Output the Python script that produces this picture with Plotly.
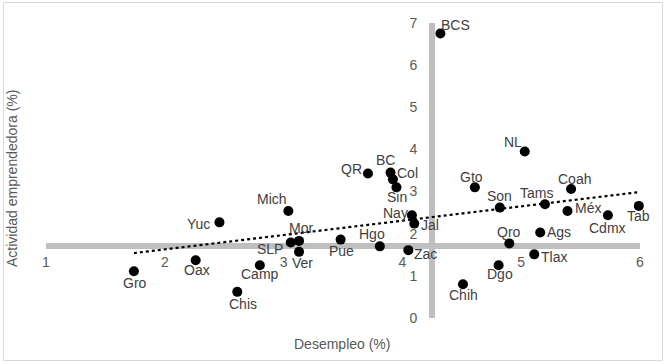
import numpy as np
import plotly.graph_objects as go

# Data
estados = ["BCS", "NL", "QR", "BC", "Col", "Sin", "Gto", "Coah", "Tams", "Son",
           "Méx", "Cdmx", "Tab", "Nay", "Jal", "Qro", "Ags", "Tlax", "Dgo", "Chih",
           "Zac", "Hgo", "Pue", "Mich", "Mor", "SLP", "Ver", "Camp", "Yuc", "Oax",
           "Gro", "Chis"]
desempleo = [4.32, 5.03, 3.71, 3.90, 3.92, 3.95, 4.61, 5.42, 5.20, 4.82,
             5.39, 5.73, 5.99, 4.08, 4.10, 4.90, 5.16, 5.11, 4.81, 4.51,
             4.05, 3.81, 3.48, 3.04, 3.13, 3.06, 3.13, 2.80, 2.46, 2.26,
             1.74, 2.61]
actividad = [6.75, 3.95, 3.43, 3.45, 3.29, 3.10, 3.10, 3.06, 2.70, 2.62,
             2.54, 2.44, 2.66, 2.44, 2.24, 1.77, 2.03, 1.51, 1.25, 0.80,
             1.61, 1.70, 1.86, 2.54, 1.83, 1.79, 1.57, 1.25, 2.27, 1.37,
             1.11, 0.62]
x_ticks = [1, 2, 3, 4, 5, 6]
y_ticks = [0, 1, 2, 3, 4, 5, 6, 7]
cruce_x = 4.25   # where the vertical axis crosses
cruce_y = 1.72   # where the horizontal axis crosses

# Label offsets in pixels (style): (dx right, dy down) of label centre from the dot
offsets = {
    "BCS": (15, -9), "NL": (-12, -10), "QR": (-16, -4), "BC": (-5, -13),
    "Col": (15, -6), "Sin": (1, 10), "Gto": (-3, -10), "Coah": (3, -10),
    "Tams": (-8, -11), "Son": (0, -12), "Méx": (20, -3), "Cdmx": (0, 13),
    "Tab": (0, 10), "Nay": (-16, -2), "Jal": (16, 1), "Qro": (0, -11),
    "Ags": (19, 0), "Tlax": (20, 3), "Dgo": (1, 9), "Chih": (1, 11),
    "Zac": (17, 4), "Hgo": (-8, -12), "Pue": (1, 11), "Mich": (-16, -12),
    "Mor": (2, -13), "SLP": (-21, 6), "Ver": (3, 11), "Camp": (0, 9),
    "Yuc": (-21, 2), "Oax": (1, 10), "Gro": (1, 12), "Chis": (6, 12),
}

xs = np.array(desempleo)
ys = np.array(actividad)
m, b = np.polyfit(xs, ys, 1)
tx = np.array([xs.min(), xs.max()])
ty = m * tx + b

FONT = "Liberation Sans, Arial, sans-serif"

fig = go.Figure()
fig.add_trace(go.Scatter(
    x=tx, y=ty, mode="lines",
    line=dict(color="black", width=2.2, dash="dot"),
    hoverinfo="skip", showlegend=False, cliponaxis=False))
fig.add_trace(go.Scatter(
    x=desempleo, y=actividad, mode="markers", text=estados,
    marker=dict(color="black", size=10),
    showlegend=False, cliponaxis=False))

L, R, T, B = 46, 27, 23, 46
W, H = 667, 364
pw, ph = W - L - R, H - T - B

def px(xp):
    return (xp - L) / pw

def py(yp):
    return (H - B - yp) / ph

annotations = []
for e, xv, yv in zip(estados, desempleo, actividad):
    dx, dy = offsets[e]
    annotations.append(dict(
        text=e, x=xv, y=yv, xref="x", yref="y", showarrow=False,
        xanchor="center", yanchor="middle", xshift=dx, yshift=-dy,
        font=dict(family=FONT, size=14, color="#404040")))

annotations += [
    dict(text="Desempleo (%)", xref="paper", yref="paper", x=px(342), y=py(344),
         xanchor="center", yanchor="middle", showarrow=False,
         font=dict(family=FONT, size=14, color="#595959")),
    dict(text="Actividad emprendedora (%)", xref="paper", yref="paper",
         x=px(12), y=py(179), textangle=-90, xanchor="center", yanchor="middle",
         showarrow=False, font=dict(family=FONT, size=14, color="#595959")),
]

fig.update_layout(
    width=W, height=H,
    margin=dict(l=L, r=R, t=T, b=B, autoexpand=False),
    paper_bgcolor="white", plot_bgcolor="white",
    font=dict(family=FONT, size=14, color="#595959"),
    xaxis=dict(range=[1, 6], tickvals=x_ticks, ticktext=[str(v) for v in x_ticks],
               showgrid=False, zeroline=False, showline=True, linewidth=6,
               linecolor="#bfbfbf", anchor="free", position=cruce_y / 7.0,
               ticks="", layer="below traces", ticklabelstandoff=2, automargin=False,
               tickfont=dict(family=FONT, size=14, color="#595959")),
    yaxis=dict(range=[0, 7], tickvals=y_ticks, ticktext=[str(v) for v in y_ticks],
               showgrid=False, zeroline=False, showline=True, linewidth=6,
               linecolor="#bfbfbf", anchor="free", position=(cruce_x - 1) / 5.0,
               ticks="", layer="below traces", ticklabelstandoff=9, automargin=False,
               tickfont=dict(family=FONT, size=14, color="#595959")),
    annotations=annotations,
    shapes=[dict(type="rect", xref="paper", yref="paper",
                 x0=px(3.5), x1=px(662.5), y0=py(360.5), y1=py(2.5),
                 line=dict(color="#d9d9d9", width=1), fillcolor="rgba(0,0,0,0)",
                 layer="below")],
)

fig.write_html("out.html", config={"displayModeBar": False},
               post_script="document.body.style.margin='0';document.body.style.overflow='hidden';")
